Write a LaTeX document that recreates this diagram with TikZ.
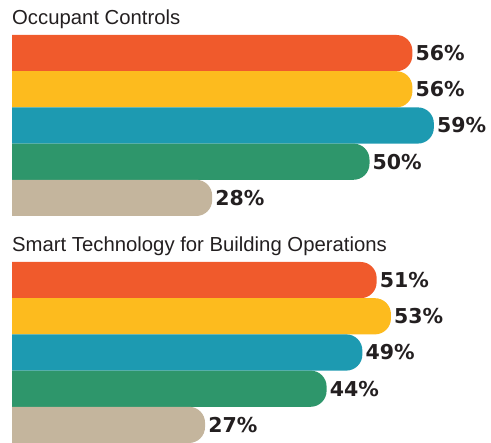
\documentclass[tikz,border=0pt]{standalone}
\usepackage{fontspec}
\setmainfont{Liberation Sans}
\newfontfamily\valfont{DejaVu Sans}[BoldFont=DejaVu Sans Bold]
\definecolor{cOrange}{HTML}{F05A2C}
\definecolor{cYellow}{HTML}{FDBB1E}
\definecolor{cTeal}{HTML}{1D9AB1}
\definecolor{cGreen}{HTML}{2E966B}
\definecolor{cTan}{HTML}{C4B59D}
\definecolor{cText}{HTML}{231F20}
\begin{document}
\begin{tikzpicture}[x=1pt,y=1pt,
  title/.style={anchor=base west, inner sep=0pt, text=cText, font=\fontsize{20.3}{22}\selectfont},
  val/.style={anchor=west, inner sep=0pt, text=cText, font=\valfont\bfseries\fontsize{20.5}{22}\selectfont}]
\useasboundingbox (0,0) rectangle (491,443);
% bar macro: \bar{colour}{top px}{percent}{name}
\newcommand\hbarx[4]{%
  \pgfmathsetmacro\bt{443-#2}%
  \pgfmathsetmacro\bb{443-#2-36.2}%
  \pgfmathsetmacro\be{12+7.15*#3}%
  \fill[#1] (12,\bt) -- (\be-16,\bt) arc[start angle=90,end angle=0,radius=16]
     -- (\be,\bb+16) arc[start angle=0,end angle=-90,radius=16] -- (12,\bb) -- cycle;
  \node[val] (#4) at (\be+3,{(\bt+\bb)/2}) {#3\%};
}
\node[title] (t1) at (12,443-25) {Occupant Controls};
\hbarx{cOrange}{35}{56}{a1}
\hbarx{cYellow}{71.2}{56}{a2}
\hbarx{cTeal}{107.4}{59}{a3}
\hbarx{cGreen}{143.6}{50}{a4}
\hbarx{cTan}{179.8}{28}{a5}
\node[title] (t2) at (12,443-252) {Smart Technology for Building Operations};
\hbarx{cOrange}{262}{51}{b1}
\hbarx{cYellow}{298.2}{53}{b2}
\hbarx{cTeal}{334.4}{49}{b3}
\hbarx{cGreen}{370.6}{44}{b4}
\hbarx{cTan}{406.8}{27}{b5}
\end{tikzpicture}
\end{document}
